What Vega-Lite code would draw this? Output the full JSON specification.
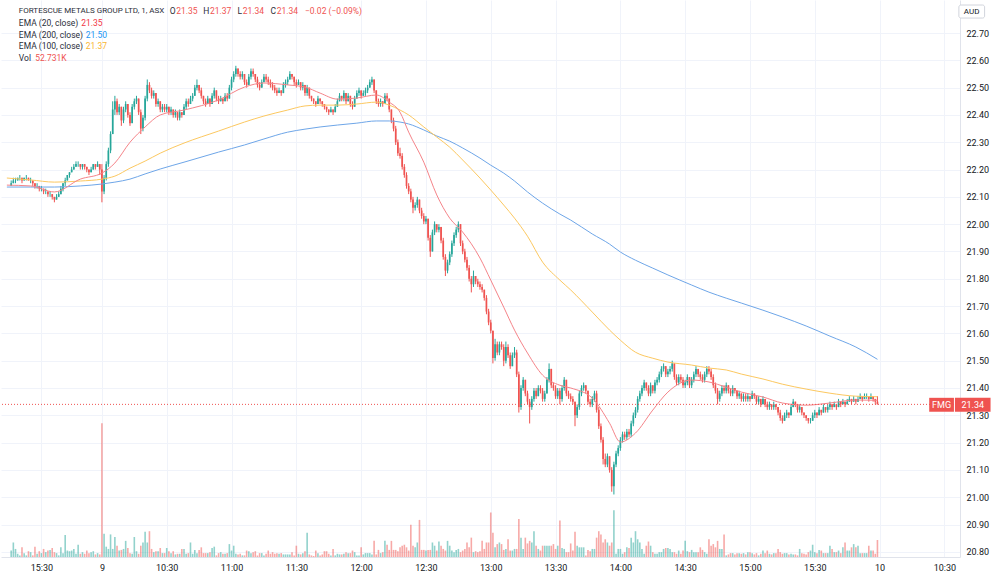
{
"$schema":"https://vega.github.io/schema/vega-lite/v6.json",
"width":959,"height":557,"padding":0,"autosize":{"type":"pad"},
"background":"#ffffff",
"config":{"view":{"stroke":null},"font":"Roboto"},
"datasets":{
"bars":[
{"i":-42,"o":22.14,"h":22.16,"l":22.14,"c":22.15,"v":20},
{"i":-41,"o":22.15,"h":22.17,"l":22.15,"c":22.16,"v":45},
{"i":-40,"o":22.16,"h":22.17,"l":22.15,"c":22.16,"v":25},
{"i":-39,"o":22.16,"h":22.17,"l":22.16,"c":22.17,"v":10},
{"i":-38,"o":22.17,"h":22.18,"l":22.16,"c":22.17,"v":5},
{"i":-37,"o":22.17,"h":22.17,"l":22.15,"c":22.16,"v":30},
{"i":-36,"o":22.16,"h":22.17,"l":22.16,"c":22.17,"v":12},
{"i":-35,"o":22.17,"h":22.18,"l":22.16,"c":22.17,"v":5},
{"i":-34,"o":22.17,"h":22.17,"l":22.16,"c":22.16,"v":18},
{"i":-33,"o":22.16,"h":22.17,"l":22.15,"c":22.16,"v":15},
{"i":-32,"o":22.16,"h":22.16,"l":22.14,"c":22.15,"v":5},
{"i":-31,"o":22.15,"h":22.15,"l":22.13,"c":22.14,"v":32},
{"i":-30,"o":22.14,"h":22.15,"l":22.13,"c":22.14,"v":10},
{"i":-29,"o":22.14,"h":22.14,"l":22.12,"c":22.13,"v":18},
{"i":-28,"o":22.13,"h":22.14,"l":22.12,"c":22.13,"v":12},
{"i":-27,"o":22.13,"h":22.13,"l":22.11,"c":22.12,"v":25},
{"i":-26,"o":22.12,"h":22.13,"l":22.11,"c":22.12,"v":15},
{"i":-25,"o":22.12,"h":22.12,"l":22.10,"c":22.11,"v":20},
{"i":-24,"o":22.11,"h":22.12,"l":22.10,"c":22.11,"v":22},
{"i":-23,"o":22.11,"h":22.11,"l":22.09,"c":22.10,"v":28},
{"i":-22,"o":22.10,"h":22.10,"l":22.08,"c":22.09,"v":15},
{"i":-21,"o":22.09,"h":22.11,"l":22.09,"c":22.10,"v":12},
{"i":-20,"o":22.10,"h":22.12,"l":22.10,"c":22.11,"v":5},
{"i":-19,"o":22.11,"h":22.14,"l":22.11,"c":22.13,"v":30},
{"i":-18,"o":22.13,"h":22.15,"l":22.12,"c":22.15,"v":12},
{"i":-17,"o":22.15,"h":22.17,"l":22.14,"c":22.16,"v":68},
{"i":-16,"o":22.16,"h":22.18,"l":22.16,"c":22.18,"v":20},
{"i":-15,"o":22.18,"h":22.19,"l":22.17,"c":22.19,"v":18},
{"i":-14,"o":22.19,"h":22.21,"l":22.19,"c":22.20,"v":20},
{"i":-13,"o":22.20,"h":22.22,"l":22.20,"c":22.21,"v":25},
{"i":-12,"o":22.21,"h":22.23,"l":22.21,"c":22.22,"v":10},
{"i":-11,"o":22.22,"h":22.23,"l":22.21,"c":22.22,"v":38},
{"i":-10,"o":22.22,"h":22.22,"l":22.20,"c":22.21,"v":10},
{"i":-9,"o":22.21,"h":22.22,"l":22.20,"c":22.22,"v":15},
{"i":-8,"o":22.22,"h":22.22,"l":22.20,"c":22.21,"v":10},
{"i":-7,"o":22.21,"h":22.21,"l":22.19,"c":22.20,"v":20},
{"i":-6,"o":22.20,"h":22.20,"l":22.18,"c":22.19,"v":12},
{"i":-5,"o":22.19,"h":22.21,"l":22.19,"c":22.20,"v":15},
{"i":-4,"o":22.20,"h":22.22,"l":22.20,"c":22.22,"v":18},
{"i":-3,"o":22.22,"h":22.22,"l":22.20,"c":22.21,"v":8},
{"i":-2,"o":22.21,"h":22.23,"l":22.21,"c":22.22,"v":12},
{"i":-1,"o":22.22,"h":22.22,"l":22.18,"c":22.20,"v":8},
{"i":0,"o":22.20,"h":22.22,"l":22.08,"c":22.12,"v":415},
{"i":1,"o":22.12,"h":22.18,"l":22.11,"c":22.17,"v":72},
{"i":2,"o":22.17,"h":22.23,"l":22.16,"c":22.22,"v":32},
{"i":3,"o":22.22,"h":22.28,"l":22.21,"c":22.27,"v":25},
{"i":4,"o":22.27,"h":22.34,"l":22.26,"c":22.33,"v":70},
{"i":5,"o":22.33,"h":22.45,"l":22.33,"c":22.42,"v":25},
{"i":6,"o":22.42,"h":22.47,"l":22.40,"c":22.45,"v":62},
{"i":7,"o":22.45,"h":22.46,"l":22.40,"c":22.41,"v":35},
{"i":8,"o":22.41,"h":22.44,"l":22.40,"c":22.43,"v":20},
{"i":9,"o":22.43,"h":22.43,"l":22.36,"c":22.38,"v":22},
{"i":10,"o":22.38,"h":22.43,"l":22.37,"c":22.42,"v":25},
{"i":11,"o":22.42,"h":22.45,"l":22.41,"c":22.44,"v":50},
{"i":12,"o":22.44,"h":22.44,"l":22.39,"c":22.40,"v":28},
{"i":13,"o":22.40,"h":22.41,"l":22.36,"c":22.37,"v":12},
{"i":14,"o":22.37,"h":22.44,"l":22.37,"c":22.43,"v":10},
{"i":15,"o":22.43,"h":22.46,"l":22.42,"c":22.45,"v":62},
{"i":16,"o":22.45,"h":22.47,"l":22.44,"c":22.46,"v":18},
{"i":17,"o":22.46,"h":22.46,"l":22.40,"c":22.41,"v":10},
{"i":18,"o":22.41,"h":22.42,"l":22.33,"c":22.35,"v":35},
{"i":19,"o":22.35,"h":22.40,"l":22.34,"c":22.39,"v":45},
{"i":20,"o":22.39,"h":22.47,"l":22.38,"c":22.46,"v":78},
{"i":21,"o":22.46,"h":22.53,"l":22.45,"c":22.51,"v":45},
{"i":22,"o":22.51,"h":22.52,"l":22.48,"c":22.49,"v":80},
{"i":23,"o":22.49,"h":22.50,"l":22.46,"c":22.47,"v":25},
{"i":24,"o":22.47,"h":22.49,"l":22.46,"c":22.48,"v":15},
{"i":25,"o":22.48,"h":22.48,"l":22.43,"c":22.44,"v":18},
{"i":26,"o":22.44,"h":22.46,"l":22.43,"c":22.45,"v":18},
{"i":27,"o":22.45,"h":22.45,"l":22.41,"c":22.42,"v":28},
{"i":28,"o":22.42,"h":22.44,"l":22.41,"c":22.43,"v":12},
{"i":29,"o":22.43,"h":22.44,"l":22.41,"c":22.42,"v":12},
{"i":30,"o":22.42,"h":22.44,"l":22.41,"c":22.43,"v":28},
{"i":31,"o":22.43,"h":22.43,"l":22.40,"c":22.41,"v":18},
{"i":32,"o":22.41,"h":22.43,"l":22.40,"c":22.42,"v":12},
{"i":33,"o":22.42,"h":22.42,"l":22.39,"c":22.40,"v":18},
{"i":34,"o":22.40,"h":22.42,"l":22.39,"c":22.41,"v":8},
{"i":35,"o":22.41,"h":22.41,"l":22.38,"c":22.39,"v":10},
{"i":36,"o":22.39,"h":22.42,"l":22.38,"c":22.41,"v":10},
{"i":37,"o":22.41,"h":22.41,"l":22.39,"c":22.40,"v":25},
{"i":38,"o":22.40,"h":22.44,"l":22.40,"c":22.43,"v":25},
{"i":39,"o":22.43,"h":22.46,"l":22.42,"c":22.45,"v":10},
{"i":40,"o":22.45,"h":22.46,"l":22.43,"c":22.44,"v":12},
{"i":41,"o":22.44,"h":22.47,"l":22.44,"c":22.46,"v":45},
{"i":42,"o":22.46,"h":22.48,"l":22.45,"c":22.47,"v":10},
{"i":43,"o":22.47,"h":22.51,"l":22.47,"c":22.50,"v":22},
{"i":44,"o":22.50,"h":22.53,"l":22.49,"c":22.51,"v":12},
{"i":45,"o":22.51,"h":22.51,"l":22.48,"c":22.49,"v":22},
{"i":46,"o":22.49,"h":22.50,"l":22.46,"c":22.47,"v":30},
{"i":47,"o":22.47,"h":22.47,"l":22.44,"c":22.45,"v":12},
{"i":48,"o":22.45,"h":22.46,"l":22.43,"c":22.44,"v":12},
{"i":49,"o":22.44,"h":22.47,"l":22.44,"c":22.46,"v":12},
{"i":50,"o":22.46,"h":22.46,"l":22.43,"c":22.44,"v":15},
{"i":51,"o":22.44,"h":22.48,"l":22.44,"c":22.47,"v":28},
{"i":52,"o":22.47,"h":22.50,"l":22.46,"c":22.49,"v":32},
{"i":53,"o":22.49,"h":22.49,"l":22.45,"c":22.46,"v":5},
{"i":54,"o":22.46,"h":22.47,"l":22.44,"c":22.45,"v":12},
{"i":55,"o":22.45,"h":22.47,"l":22.45,"c":22.46,"v":15},
{"i":56,"o":22.46,"h":22.46,"l":22.44,"c":22.45,"v":10},
{"i":57,"o":22.45,"h":22.48,"l":22.45,"c":22.47,"v":10},
{"i":58,"o":22.47,"h":22.48,"l":22.45,"c":22.46,"v":12},
{"i":59,"o":22.46,"h":22.51,"l":22.46,"c":22.50,"v":40},
{"i":60,"o":22.50,"h":22.54,"l":22.49,"c":22.53,"v":20},
{"i":61,"o":22.53,"h":22.56,"l":22.52,"c":22.55,"v":35},
{"i":62,"o":22.55,"h":22.58,"l":22.54,"c":22.57,"v":10},
{"i":63,"o":22.57,"h":22.57,"l":22.54,"c":22.55,"v":8},
{"i":64,"o":22.55,"h":22.56,"l":22.53,"c":22.54,"v":10},
{"i":65,"o":22.54,"h":22.56,"l":22.53,"c":22.55,"v":5},
{"i":66,"o":22.55,"h":22.55,"l":22.51,"c":22.52,"v":5},
{"i":67,"o":22.52,"h":22.53,"l":22.50,"c":22.51,"v":20},
{"i":68,"o":22.51,"h":22.55,"l":22.51,"c":22.54,"v":18},
{"i":69,"o":22.54,"h":22.57,"l":22.53,"c":22.56,"v":12},
{"i":70,"o":22.56,"h":22.57,"l":22.54,"c":22.55,"v":15},
{"i":71,"o":22.55,"h":22.55,"l":22.52,"c":22.53,"v":18},
{"i":72,"o":22.53,"h":22.54,"l":22.50,"c":22.51,"v":5},
{"i":73,"o":22.51,"h":22.52,"l":22.49,"c":22.50,"v":12},
{"i":74,"o":22.50,"h":22.53,"l":22.50,"c":22.52,"v":12},
{"i":75,"o":22.52,"h":22.55,"l":22.52,"c":22.54,"v":5},
{"i":76,"o":22.54,"h":22.55,"l":22.52,"c":22.53,"v":10},
{"i":77,"o":22.53,"h":22.54,"l":22.51,"c":22.52,"v":20},
{"i":78,"o":22.52,"h":22.53,"l":22.50,"c":22.51,"v":10},
{"i":79,"o":22.51,"h":22.52,"l":22.49,"c":22.50,"v":15},
{"i":80,"o":22.50,"h":22.51,"l":22.48,"c":22.49,"v":10},
{"i":81,"o":22.49,"h":22.50,"l":22.47,"c":22.48,"v":12},
{"i":82,"o":22.48,"h":22.50,"l":22.48,"c":22.49,"v":10},
{"i":83,"o":22.49,"h":22.49,"l":22.47,"c":22.48,"v":12},
{"i":84,"o":22.48,"h":22.52,"l":22.48,"c":22.51,"v":8},
{"i":85,"o":22.51,"h":22.53,"l":22.50,"c":22.52,"v":8},
{"i":86,"o":22.52,"h":22.54,"l":22.51,"c":22.53,"v":8},
{"i":87,"o":22.53,"h":22.56,"l":22.53,"c":22.55,"v":8},
{"i":88,"o":22.55,"h":22.55,"l":22.53,"c":22.54,"v":15},
{"i":89,"o":22.54,"h":22.54,"l":22.51,"c":22.52,"v":5},
{"i":90,"o":22.52,"h":22.53,"l":22.50,"c":22.51,"v":35},
{"i":91,"o":22.51,"h":22.53,"l":22.51,"c":22.52,"v":10},
{"i":92,"o":22.52,"h":22.52,"l":22.49,"c":22.50,"v":8},
{"i":93,"o":22.50,"h":22.52,"l":22.49,"c":22.51,"v":12},
{"i":94,"o":22.51,"h":22.51,"l":22.47,"c":22.48,"v":18},
{"i":95,"o":22.48,"h":22.51,"l":22.47,"c":22.50,"v":75},
{"i":96,"o":22.50,"h":22.50,"l":22.46,"c":22.47,"v":8},
{"i":97,"o":22.47,"h":22.47,"l":22.45,"c":22.46,"v":5},
{"i":98,"o":22.46,"h":22.46,"l":22.44,"c":22.45,"v":3},
{"i":99,"o":22.45,"h":22.45,"l":22.43,"c":22.44,"v":20},
{"i":100,"o":22.44,"h":22.47,"l":22.44,"c":22.46,"v":12},
{"i":101,"o":22.46,"h":22.46,"l":22.44,"c":22.45,"v":5},
{"i":102,"o":22.45,"h":22.45,"l":22.43,"c":22.44,"v":8},
{"i":103,"o":22.44,"h":22.44,"l":22.42,"c":22.43,"v":18},
{"i":104,"o":22.43,"h":22.43,"l":22.41,"c":22.42,"v":18},
{"i":105,"o":22.42,"h":22.42,"l":22.40,"c":22.41,"v":10},
{"i":106,"o":22.41,"h":22.43,"l":22.41,"c":22.42,"v":5},
{"i":107,"o":22.42,"h":22.42,"l":22.40,"c":22.41,"v":25},
{"i":108,"o":22.41,"h":22.44,"l":22.41,"c":22.43,"v":5},
{"i":109,"o":22.43,"h":22.46,"l":22.43,"c":22.45,"v":10},
{"i":110,"o":22.45,"h":22.48,"l":22.45,"c":22.47,"v":8},
{"i":111,"o":22.47,"h":22.47,"l":22.45,"c":22.46,"v":8},
{"i":112,"o":22.46,"h":22.49,"l":22.45,"c":22.48,"v":10},
{"i":113,"o":22.48,"h":22.48,"l":22.44,"c":22.45,"v":15},
{"i":114,"o":22.45,"h":22.48,"l":22.45,"c":22.47,"v":12},
{"i":115,"o":22.47,"h":22.47,"l":22.43,"c":22.44,"v":12},
{"i":116,"o":22.44,"h":22.45,"l":22.42,"c":22.43,"v":20},
{"i":117,"o":22.43,"h":22.47,"l":22.43,"c":22.46,"v":15},
{"i":118,"o":22.46,"h":22.49,"l":22.46,"c":22.48,"v":5},
{"i":119,"o":22.48,"h":22.50,"l":22.47,"c":22.49,"v":5},
{"i":120,"o":22.49,"h":22.49,"l":22.46,"c":22.47,"v":30},
{"i":121,"o":22.47,"h":22.49,"l":22.47,"c":22.48,"v":8},
{"i":122,"o":22.48,"h":22.50,"l":22.47,"c":22.49,"v":12},
{"i":123,"o":22.49,"h":22.51,"l":22.48,"c":22.50,"v":12},
{"i":124,"o":22.50,"h":22.53,"l":22.50,"c":22.52,"v":12},
{"i":125,"o":22.52,"h":22.54,"l":22.51,"c":22.53,"v":8},
{"i":126,"o":22.53,"h":22.53,"l":22.48,"c":22.49,"v":50},
{"i":127,"o":22.49,"h":22.49,"l":22.44,"c":22.45,"v":8},
{"i":128,"o":22.45,"h":22.46,"l":22.43,"c":22.44,"v":22},
{"i":129,"o":22.44,"h":22.46,"l":22.43,"c":22.45,"v":12},
{"i":130,"o":22.45,"h":22.45,"l":22.43,"c":22.44,"v":15},
{"i":131,"o":22.44,"h":22.48,"l":22.44,"c":22.47,"v":50},
{"i":132,"o":22.47,"h":22.48,"l":22.45,"c":22.46,"v":38},
{"i":133,"o":22.46,"h":22.46,"l":22.41,"c":22.42,"v":22},
{"i":134,"o":22.42,"h":22.42,"l":22.37,"c":22.38,"v":50},
{"i":135,"o":22.38,"h":22.39,"l":22.34,"c":22.35,"v":22},
{"i":136,"o":22.35,"h":22.36,"l":22.29,"c":22.30,"v":22},
{"i":137,"o":22.30,"h":22.31,"l":22.25,"c":22.26,"v":18},
{"i":138,"o":22.26,"h":22.28,"l":22.24,"c":22.25,"v":30},
{"i":139,"o":22.25,"h":22.26,"l":22.20,"c":22.21,"v":35},
{"i":140,"o":22.21,"h":22.22,"l":22.17,"c":22.18,"v":38},
{"i":141,"o":22.18,"h":22.19,"l":22.13,"c":22.14,"v":30},
{"i":142,"o":22.14,"h":22.15,"l":22.11,"c":22.12,"v":20},
{"i":143,"o":22.12,"h":22.13,"l":22.08,"c":22.09,"v":100},
{"i":144,"o":22.09,"h":22.10,"l":22.04,"c":22.06,"v":35},
{"i":145,"o":22.06,"h":22.08,"l":22.05,"c":22.07,"v":30},
{"i":146,"o":22.07,"h":22.10,"l":22.06,"c":22.09,"v":45},
{"i":147,"o":22.09,"h":22.09,"l":22.04,"c":22.05,"v":115},
{"i":148,"o":22.05,"h":22.06,"l":22.02,"c":22.03,"v":22},
{"i":149,"o":22.03,"h":22.04,"l":22.00,"c":22.01,"v":22},
{"i":150,"o":22.01,"h":22.03,"l":22.00,"c":22.02,"v":20},
{"i":151,"o":22.02,"h":22.02,"l":21.94,"c":21.95,"v":22},
{"i":152,"o":21.95,"h":21.96,"l":21.88,"c":21.90,"v":22},
{"i":153,"o":21.90,"h":21.98,"l":21.90,"c":21.97,"v":45},
{"i":154,"o":21.97,"h":22.01,"l":21.96,"c":22.00,"v":35},
{"i":155,"o":22.00,"h":22.00,"l":21.97,"c":21.98,"v":20},
{"i":156,"o":21.98,"h":22.00,"l":21.97,"c":21.99,"v":48},
{"i":157,"o":21.99,"h":21.99,"l":21.93,"c":21.94,"v":35},
{"i":158,"o":21.94,"h":21.95,"l":21.87,"c":21.88,"v":25},
{"i":159,"o":21.88,"h":21.89,"l":21.81,"c":21.83,"v":20},
{"i":160,"o":21.83,"h":21.87,"l":21.82,"c":21.86,"v":50},
{"i":161,"o":21.86,"h":21.90,"l":21.85,"c":21.89,"v":35},
{"i":162,"o":21.89,"h":21.94,"l":21.88,"c":21.93,"v":20},
{"i":163,"o":21.93,"h":21.97,"l":21.92,"c":21.96,"v":15},
{"i":164,"o":21.96,"h":21.99,"l":21.95,"c":21.98,"v":22},
{"i":165,"o":21.98,"h":22.01,"l":21.97,"c":22.00,"v":25},
{"i":166,"o":22.00,"h":22.00,"l":21.92,"c":21.93,"v":15},
{"i":167,"o":21.93,"h":21.94,"l":21.89,"c":21.90,"v":20},
{"i":168,"o":21.90,"h":21.91,"l":21.86,"c":21.87,"v":25},
{"i":169,"o":21.87,"h":21.88,"l":21.83,"c":21.84,"v":45},
{"i":170,"o":21.84,"h":21.85,"l":21.79,"c":21.80,"v":30},
{"i":171,"o":21.80,"h":21.81,"l":21.75,"c":21.78,"v":60},
{"i":172,"o":21.78,"h":21.83,"l":21.77,"c":21.81,"v":15},
{"i":173,"o":21.81,"h":21.81,"l":21.78,"c":21.79,"v":18},
{"i":174,"o":21.79,"h":21.80,"l":21.77,"c":21.78,"v":15},
{"i":175,"o":21.78,"h":21.79,"l":21.76,"c":21.77,"v":18},
{"i":176,"o":21.77,"h":21.78,"l":21.75,"c":21.76,"v":50},
{"i":177,"o":21.76,"h":21.76,"l":21.72,"c":21.73,"v":25},
{"i":178,"o":21.73,"h":21.74,"l":21.67,"c":21.68,"v":45},
{"i":179,"o":21.68,"h":21.69,"l":21.63,"c":21.64,"v":45},
{"i":180,"o":21.64,"h":21.65,"l":21.60,"c":21.61,"v":138},
{"i":181,"o":21.61,"h":21.61,"l":21.49,"c":21.51,"v":75},
{"i":182,"o":21.51,"h":21.58,"l":21.50,"c":21.56,"v":30},
{"i":183,"o":21.56,"h":21.57,"l":21.52,"c":21.53,"v":40},
{"i":184,"o":21.53,"h":21.57,"l":21.52,"c":21.56,"v":45},
{"i":185,"o":21.56,"h":21.57,"l":21.54,"c":21.55,"v":40},
{"i":186,"o":21.55,"h":21.56,"l":21.48,"c":21.50,"v":22},
{"i":187,"o":21.50,"h":21.57,"l":21.49,"c":21.55,"v":25},
{"i":188,"o":21.55,"h":21.56,"l":21.51,"c":21.52,"v":55},
{"i":189,"o":21.52,"h":21.53,"l":21.47,"c":21.48,"v":20},
{"i":190,"o":21.48,"h":21.53,"l":21.48,"c":21.52,"v":20},
{"i":191,"o":21.52,"h":21.55,"l":21.51,"c":21.53,"v":25},
{"i":192,"o":21.53,"h":21.54,"l":21.44,"c":21.45,"v":25},
{"i":193,"o":21.45,"h":21.46,"l":21.31,"c":21.33,"v":118},
{"i":194,"o":21.33,"h":21.41,"l":21.32,"c":21.40,"v":60},
{"i":195,"o":21.40,"h":21.44,"l":21.39,"c":21.43,"v":25},
{"i":196,"o":21.43,"h":21.43,"l":21.37,"c":21.38,"v":60},
{"i":197,"o":21.38,"h":21.39,"l":21.34,"c":21.35,"v":42},
{"i":198,"o":21.35,"h":21.36,"l":21.27,"c":21.33,"v":50},
{"i":199,"o":21.33,"h":21.37,"l":21.32,"c":21.36,"v":45},
{"i":200,"o":21.36,"h":21.40,"l":21.35,"c":21.39,"v":80},
{"i":201,"o":21.39,"h":21.40,"l":21.36,"c":21.37,"v":35},
{"i":202,"o":21.37,"h":21.41,"l":21.37,"c":21.40,"v":25},
{"i":203,"o":21.40,"h":21.41,"l":21.38,"c":21.39,"v":20},
{"i":204,"o":21.39,"h":21.40,"l":21.35,"c":21.36,"v":35},
{"i":205,"o":21.36,"h":21.39,"l":21.35,"c":21.38,"v":35},
{"i":206,"o":21.38,"h":21.44,"l":21.38,"c":21.43,"v":35},
{"i":207,"o":21.43,"h":21.49,"l":21.42,"c":21.47,"v":35},
{"i":208,"o":21.47,"h":21.47,"l":21.40,"c":21.41,"v":35},
{"i":209,"o":21.41,"h":21.42,"l":21.39,"c":21.40,"v":40},
{"i":210,"o":21.40,"h":21.41,"l":21.36,"c":21.37,"v":25},
{"i":211,"o":21.37,"h":21.40,"l":21.36,"c":21.39,"v":35},
{"i":212,"o":21.39,"h":21.40,"l":21.34,"c":21.36,"v":113},
{"i":213,"o":21.36,"h":21.41,"l":21.35,"c":21.40,"v":28},
{"i":214,"o":21.40,"h":21.44,"l":21.39,"c":21.43,"v":25},
{"i":215,"o":21.43,"h":21.43,"l":21.37,"c":21.38,"v":15},
{"i":216,"o":21.38,"h":21.39,"l":21.36,"c":21.37,"v":15},
{"i":217,"o":21.37,"h":21.38,"l":21.35,"c":21.36,"v":42},
{"i":218,"o":21.36,"h":21.37,"l":21.34,"c":21.35,"v":20},
{"i":219,"o":21.35,"h":21.35,"l":21.26,"c":21.30,"v":78},
{"i":220,"o":21.30,"h":21.34,"l":21.29,"c":21.33,"v":35},
{"i":221,"o":21.33,"h":21.39,"l":21.32,"c":21.38,"v":30},
{"i":222,"o":21.38,"h":21.41,"l":21.37,"c":21.40,"v":30},
{"i":223,"o":21.40,"h":21.42,"l":21.39,"c":21.41,"v":30},
{"i":224,"o":21.41,"h":21.41,"l":21.38,"c":21.39,"v":5},
{"i":225,"o":21.39,"h":21.39,"l":21.34,"c":21.35,"v":22},
{"i":226,"o":21.35,"h":21.36,"l":21.33,"c":21.34,"v":18},
{"i":227,"o":21.34,"h":21.37,"l":21.33,"c":21.36,"v":25},
{"i":228,"o":21.36,"h":21.39,"l":21.35,"c":21.38,"v":25},
{"i":229,"o":21.38,"h":21.39,"l":21.31,"c":21.32,"v":60},
{"i":230,"o":21.32,"h":21.33,"l":21.25,"c":21.26,"v":80},
{"i":231,"o":21.26,"h":21.27,"l":21.20,"c":21.21,"v":70},
{"i":232,"o":21.21,"h":21.22,"l":21.12,"c":21.14,"v":45},
{"i":233,"o":21.14,"h":21.16,"l":21.11,"c":21.12,"v":55},
{"i":234,"o":21.12,"h":21.16,"l":21.11,"c":21.15,"v":45},
{"i":235,"o":21.15,"h":21.15,"l":21.09,"c":21.10,"v":35},
{"i":236,"o":21.10,"h":21.11,"l":21.02,"c":21.04,"v":45},
{"i":237,"o":21.04,"h":21.13,"l":21.01,"c":21.12,"v":145},
{"i":238,"o":21.12,"h":21.17,"l":21.11,"c":21.16,"v":10},
{"i":239,"o":21.16,"h":21.19,"l":21.15,"c":21.18,"v":25},
{"i":240,"o":21.18,"h":21.22,"l":21.17,"c":21.21,"v":25},
{"i":241,"o":21.21,"h":21.24,"l":21.20,"c":21.23,"v":10},
{"i":242,"o":21.23,"h":21.24,"l":21.21,"c":21.22,"v":15},
{"i":243,"o":21.22,"h":21.25,"l":21.21,"c":21.24,"v":30},
{"i":244,"o":21.24,"h":21.25,"l":21.22,"c":21.23,"v":28},
{"i":245,"o":21.23,"h":21.28,"l":21.22,"c":21.27,"v":60},
{"i":246,"o":21.27,"h":21.31,"l":21.26,"c":21.30,"v":45},
{"i":247,"o":21.30,"h":21.33,"l":21.29,"c":21.32,"v":80},
{"i":248,"o":21.32,"h":21.37,"l":21.31,"c":21.36,"v":55},
{"i":249,"o":21.36,"h":21.39,"l":21.35,"c":21.38,"v":45},
{"i":250,"o":21.38,"h":21.41,"l":21.37,"c":21.40,"v":25},
{"i":251,"o":21.40,"h":21.43,"l":21.39,"c":21.42,"v":10},
{"i":252,"o":21.42,"h":21.42,"l":21.39,"c":21.40,"v":35},
{"i":253,"o":21.40,"h":21.41,"l":21.37,"c":21.38,"v":48},
{"i":254,"o":21.38,"h":21.42,"l":21.37,"c":21.41,"v":35},
{"i":255,"o":21.41,"h":21.41,"l":21.38,"c":21.39,"v":15},
{"i":256,"o":21.39,"h":21.43,"l":21.38,"c":21.42,"v":10},
{"i":257,"o":21.42,"h":21.44,"l":21.41,"c":21.43,"v":10},
{"i":258,"o":21.43,"h":21.46,"l":21.42,"c":21.45,"v":15},
{"i":259,"o":21.45,"h":21.48,"l":21.44,"c":21.47,"v":15},
{"i":260,"o":21.47,"h":21.49,"l":21.46,"c":21.48,"v":25},
{"i":261,"o":21.48,"h":21.48,"l":21.44,"c":21.45,"v":28},
{"i":262,"o":21.45,"h":21.47,"l":21.44,"c":21.46,"v":28},
{"i":263,"o":21.46,"h":21.48,"l":21.45,"c":21.47,"v":25},
{"i":264,"o":21.47,"h":21.50,"l":21.46,"c":21.49,"v":15},
{"i":265,"o":21.49,"h":21.49,"l":21.43,"c":21.44,"v":15},
{"i":266,"o":21.44,"h":21.45,"l":21.41,"c":21.42,"v":10},
{"i":267,"o":21.42,"h":21.45,"l":21.41,"c":21.44,"v":20},
{"i":268,"o":21.44,"h":21.45,"l":21.42,"c":21.43,"v":10},
{"i":269,"o":21.43,"h":21.44,"l":21.40,"c":21.41,"v":20},
{"i":270,"o":21.41,"h":21.43,"l":21.40,"c":21.42,"v":50},
{"i":271,"o":21.42,"h":21.45,"l":21.41,"c":21.44,"v":18},
{"i":272,"o":21.44,"h":21.44,"l":21.40,"c":21.41,"v":15},
{"i":273,"o":21.41,"h":21.44,"l":21.40,"c":21.43,"v":22},
{"i":274,"o":21.43,"h":21.46,"l":21.42,"c":21.45,"v":15},
{"i":275,"o":21.45,"h":21.48,"l":21.44,"c":21.47,"v":15},
{"i":276,"o":21.47,"h":21.47,"l":21.44,"c":21.45,"v":15},
{"i":277,"o":21.45,"h":21.46,"l":21.43,"c":21.44,"v":30},
{"i":278,"o":21.44,"h":21.45,"l":21.42,"c":21.43,"v":22},
{"i":279,"o":21.43,"h":21.46,"l":21.42,"c":21.45,"v":15},
{"i":280,"o":21.45,"h":21.48,"l":21.44,"c":21.47,"v":10},
{"i":281,"o":21.47,"h":21.48,"l":21.45,"c":21.46,"v":55},
{"i":282,"o":21.46,"h":21.47,"l":21.43,"c":21.44,"v":35},
{"i":283,"o":21.44,"h":21.45,"l":21.40,"c":21.41,"v":40},
{"i":284,"o":21.41,"h":21.42,"l":21.38,"c":21.39,"v":30},
{"i":285,"o":21.39,"h":21.40,"l":21.34,"c":21.36,"v":50},
{"i":286,"o":21.36,"h":21.39,"l":21.35,"c":21.38,"v":25},
{"i":287,"o":21.38,"h":21.41,"l":21.37,"c":21.40,"v":25},
{"i":288,"o":21.40,"h":21.41,"l":21.38,"c":21.39,"v":70},
{"i":289,"o":21.39,"h":21.42,"l":21.38,"c":21.41,"v":5},
{"i":290,"o":21.41,"h":21.41,"l":21.38,"c":21.39,"v":8},
{"i":291,"o":21.39,"h":21.40,"l":21.37,"c":21.38,"v":12},
{"i":292,"o":21.38,"h":21.41,"l":21.37,"c":21.40,"v":12},
{"i":293,"o":21.40,"h":21.40,"l":21.38,"c":21.39,"v":8},
{"i":294,"o":21.39,"h":21.39,"l":21.36,"c":21.37,"v":12},
{"i":295,"o":21.37,"h":21.39,"l":21.36,"c":21.38,"v":12},
{"i":296,"o":21.38,"h":21.38,"l":21.35,"c":21.36,"v":10},
{"i":297,"o":21.36,"h":21.38,"l":21.35,"c":21.37,"v":12},
{"i":298,"o":21.37,"h":21.38,"l":21.35,"c":21.36,"v":8},
{"i":299,"o":21.36,"h":21.38,"l":21.35,"c":21.37,"v":15},
{"i":300,"o":21.37,"h":21.37,"l":21.35,"c":21.36,"v":15},
{"i":301,"o":21.36,"h":21.39,"l":21.36,"c":21.38,"v":12},
{"i":302,"o":21.38,"h":21.38,"l":21.36,"c":21.37,"v":8},
{"i":303,"o":21.37,"h":21.37,"l":21.34,"c":21.35,"v":12},
{"i":304,"o":21.35,"h":21.37,"l":21.34,"c":21.36,"v":5},
{"i":305,"o":21.36,"h":21.36,"l":21.33,"c":21.34,"v":10},
{"i":306,"o":21.34,"h":21.37,"l":21.34,"c":21.36,"v":20},
{"i":307,"o":21.36,"h":21.36,"l":21.33,"c":21.34,"v":12},
{"i":308,"o":21.34,"h":21.35,"l":21.32,"c":21.33,"v":20},
{"i":309,"o":21.33,"h":21.35,"l":21.32,"c":21.34,"v":10},
{"i":310,"o":21.34,"h":21.34,"l":21.32,"c":21.33,"v":8},
{"i":311,"o":21.33,"h":21.35,"l":21.32,"c":21.34,"v":12},
{"i":312,"o":21.34,"h":21.34,"l":21.32,"c":21.33,"v":12},
{"i":313,"o":21.33,"h":21.33,"l":21.30,"c":21.31,"v":25},
{"i":314,"o":21.31,"h":21.32,"l":21.28,"c":21.29,"v":15},
{"i":315,"o":21.29,"h":21.30,"l":21.27,"c":21.28,"v":10},
{"i":316,"o":21.28,"h":21.31,"l":21.28,"c":21.30,"v":12},
{"i":317,"o":21.30,"h":21.32,"l":21.29,"c":21.31,"v":12},
{"i":318,"o":21.31,"h":21.31,"l":21.29,"c":21.30,"v":8},
{"i":319,"o":21.30,"h":21.34,"l":21.30,"c":21.33,"v":10},
{"i":320,"o":21.33,"h":21.36,"l":21.33,"c":21.35,"v":8},
{"i":321,"o":21.35,"h":21.35,"l":21.33,"c":21.34,"v":8},
{"i":322,"o":21.34,"h":21.34,"l":21.31,"c":21.32,"v":5},
{"i":323,"o":21.32,"h":21.34,"l":21.31,"c":21.33,"v":25},
{"i":324,"o":21.33,"h":21.33,"l":21.30,"c":21.31,"v":12},
{"i":325,"o":21.31,"h":21.31,"l":21.29,"c":21.30,"v":10},
{"i":326,"o":21.30,"h":21.30,"l":21.28,"c":21.29,"v":8},
{"i":327,"o":21.29,"h":21.29,"l":21.27,"c":21.28,"v":15},
{"i":328,"o":21.28,"h":21.29,"l":21.27,"c":21.28,"v":20},
{"i":329,"o":21.28,"h":21.31,"l":21.28,"c":21.30,"v":38},
{"i":330,"o":21.30,"h":21.32,"l":21.29,"c":21.31,"v":15},
{"i":331,"o":21.31,"h":21.31,"l":21.29,"c":21.30,"v":12},
{"i":332,"o":21.30,"h":21.33,"l":21.30,"c":21.32,"v":22},
{"i":333,"o":21.32,"h":21.32,"l":21.30,"c":21.31,"v":20},
{"i":334,"o":21.31,"h":21.34,"l":21.31,"c":21.33,"v":12},
{"i":335,"o":21.33,"h":21.33,"l":21.31,"c":21.32,"v":12},
{"i":336,"o":21.32,"h":21.34,"l":21.31,"c":21.33,"v":12},
{"i":337,"o":21.33,"h":21.35,"l":21.32,"c":21.34,"v":35},
{"i":338,"o":21.34,"h":21.34,"l":21.32,"c":21.33,"v":25},
{"i":339,"o":21.33,"h":21.35,"l":21.33,"c":21.34,"v":15},
{"i":340,"o":21.34,"h":21.34,"l":21.32,"c":21.33,"v":15},
{"i":341,"o":21.33,"h":21.36,"l":21.33,"c":21.35,"v":20},
{"i":342,"o":21.35,"h":21.35,"l":21.33,"c":21.34,"v":12},
{"i":343,"o":21.34,"h":21.36,"l":21.34,"c":21.35,"v":30},
{"i":344,"o":21.35,"h":21.35,"l":21.33,"c":21.34,"v":45},
{"i":345,"o":21.34,"h":21.36,"l":21.34,"c":21.35,"v":20},
{"i":346,"o":21.35,"h":21.37,"l":21.35,"c":21.36,"v":20},
{"i":347,"o":21.36,"h":21.36,"l":21.34,"c":21.35,"v":30},
{"i":348,"o":21.35,"h":21.37,"l":21.35,"c":21.36,"v":40},
{"i":349,"o":21.36,"h":21.36,"l":21.34,"c":21.35,"v":30},
{"i":350,"o":21.35,"h":21.37,"l":21.35,"c":21.36,"v":35},
{"i":351,"o":21.36,"h":21.38,"l":21.36,"c":21.37,"v":12},
{"i":352,"o":21.37,"h":21.37,"l":21.35,"c":21.36,"v":12},
{"i":353,"o":21.36,"h":21.38,"l":21.36,"c":21.37,"v":12},
{"i":354,"o":21.37,"h":21.38,"l":21.36,"c":21.37,"v":12},
{"i":355,"o":21.37,"h":21.37,"l":21.35,"c":21.36,"v":35},
{"i":356,"o":21.36,"h":21.38,"l":21.36,"c":21.37,"v":20},
{"i":357,"o":21.37,"h":21.37,"l":21.35,"c":21.36,"v":20},
{"i":358,"o":21.36,"h":21.36,"l":21.34,"c":21.35,"v":10},
{"i":359,"o":21.35,"h":21.37,"l":21.34,"c":21.34,"v":52.731}
],
"ema":[
{"i":-44,"e20":22.143,"e100":22.169,"e200":22.136},
{"i":-33,"e20":22.14,"e100":22.162,"e200":22.136},
{"i":-22,"e20":22.118,"e100":22.154,"e200":22.136},
{"i":-10,"e20":22.165,"e100":22.158,"e200":22.14},
{"i":0,"e20":22.187,"e100":22.165,"e200":22.147},
{"i":6,"e20":22.224,"e100":22.176,"e200":22.154},
{"i":13,"e20":22.30,"e100":22.205,"e200":22.165},
{"i":20,"e20":22.356,"e100":22.231,"e200":22.184},
{"i":27,"e20":22.40,"e100":22.26,"e200":22.202},
{"i":38,"e20":22.418,"e100":22.297,"e200":22.227},
{"i":54,"e20":22.455,"e100":22.341,"e200":22.264},
{"i":66,"e20":22.502,"e100":22.374,"e200":22.29},
{"i":75,"e20":22.517,"e100":22.396,"e200":22.312},
{"i":86,"e20":22.51,"e100":22.418,"e200":22.337},
{"i":94,"e20":22.502,"e100":22.433,"e200":22.348},
{"i":101,"e20":22.48,"e100":22.436,"e200":22.356},
{"i":109,"e20":22.458,"e100":22.436,"e200":22.363},
{"i":118,"e20":22.462,"e100":22.44,"e200":22.37},
{"i":127,"e20":22.473,"e100":22.447,"e200":22.378},
{"i":133,"e20":22.447,"e100":22.436,"e200":22.378},
{"i":138,"e20":22.41,"e100":22.418,"e200":22.374},
{"i":142,"e20":22.337,"e100":22.40,"e200":22.367},
{"i":149,"e20":22.227,"e100":22.356,"e200":22.345},
{"i":155,"e20":22.107,"e100":22.319,"e200":22.323},
{"i":161,"e20":22.022,"e100":22.282,"e200":22.304},
{"i":167,"e20":21.971,"e100":22.235,"e200":22.279},
{"i":175,"e20":21.876,"e100":22.169,"e200":22.242},
{"i":180,"e20":21.795,"e100":22.125,"e200":22.216},
{"i":186,"e20":21.696,"e100":22.07,"e200":22.187},
{"i":191,"e20":21.612,"e100":22.022,"e200":22.158},
{"i":197,"e20":21.528,"e100":21.956,"e200":22.118},
{"i":204,"e20":21.447,"e100":21.861,"e200":22.077},
{"i":212,"e20":21.41,"e100":21.795,"e200":22.037},
{"i":217,"e20":21.40,"e100":21.759,"e200":22.015},
{"i":227,"e20":21.363,"e100":21.678,"e200":21.964},
{"i":235,"e20":21.271,"e100":21.612,"e200":21.927},
{"i":240,"e20":21.202,"e100":21.575,"e200":21.898},
{"i":247,"e20":21.235,"e100":21.531,"e200":21.868},
{"i":255,"e20":21.319,"e100":21.509,"e200":21.839},
{"i":262,"e20":21.385,"e100":21.495,"e200":21.814},
{"i":273,"e20":21.429,"e100":21.484,"e200":21.777},
{"i":281,"e20":21.422,"e100":21.473,"e200":21.751},
{"i":289,"e20":21.403,"e100":21.466,"e200":21.729},
{"i":296,"e20":21.385,"e100":21.451,"e200":21.711},
{"i":306,"e20":21.367,"e100":21.433,"e200":21.685},
{"i":315,"e20":21.345,"e100":21.414,"e200":21.66},
{"i":326,"e20":21.337,"e100":21.396,"e200":21.627},
{"i":337,"e20":21.345,"e100":21.381,"e200":21.59},
{"i":349,"e20":21.356,"e100":21.37,"e200":21.55},
{"i":359,"e20":21.355,"e100":21.368,"e200":21.505}
]
},
"data":{"name":"bars"},
"layer":[
{"mark":{"type":"bar","width":1.6,"opacity":0.5},
 "encoding":{
  "x":{"field":"i","type":"quantitative","scale":{"domain":[-44.4,394.9],"nice":false,"zero":false},
   "axis":{"title":null,"orient":"bottom","values":[-28,0,30,60,90,120,150,180,210,240,270,300,330,360,390],
    "labelExpr":"datum.value == -28 ? '15:30' : datum.value == 0 ? '9' : datum.value == 360 ? '10' : datum.value == 390 ? '10:30' : (10 + floor(datum.value / 60)) + ':' + (datum.value % 60 == 0 ? '00' : '30')",
    "grid":true,"gridColor":"#f0f3fa","gridWidth":1,"ticks":false,"domainColor":"#e0e3eb","labelColor":"#131722","labelFontSize":9,"labelFont":"Roboto","labelPadding":6,"labelFlush":false,"labelOverlap":false,"minExtent":23,"maxExtent":23}},
  "y":{"field":"v","type":"quantitative","scale":{"domain":[0,1727],"nice":false,"zero":true},"axis":null},
  "color":{"condition":{"test":"datum.c >= datum.o","value":"#26a69a"},"value":"#ef5350"}}},
{"mark":{"type":"rule","strokeWidth":1},
 "encoding":{
  "x":{"field":"i","type":"quantitative","title":null},
  "y":{"field":"l","type":"quantitative","title":null,"scale":{"domain":[20.781,22.821],"nice":false,"zero":false},
   "axis":{"orient":"right","values":[20.8,20.9,21.0,21.1,21.2,21.3,21.4,21.5,21.6,21.7,21.8,21.9,22.0,22.1,22.2,22.3,22.4,22.5,22.6,22.7],"format":".2f","labelOverlap":false,
    "grid":true,"gridColor":"#f0f3fa","gridWidth":1,"ticks":false,"domainColor":"#e0e3eb","labelColor":"#131722","labelFontSize":9,"labelFont":"Roboto","labelPadding":6,"minExtent":41,"maxExtent":41}},
  "y2":{"field":"h"},
  "color":{"condition":{"test":"datum.c >= datum.o","value":"#26a69a"},"value":"#ef5350"}}},
{"mark":{"type":"bar","width":1.7},
 "encoding":{
  "x":{"field":"i","type":"quantitative","title":null},
  "y":{"field":"o","type":"quantitative","axis":null,"scale":{"domain":[20.781,22.821],"nice":false,"zero":false}},
  "y2":{"field":"c"},
  "color":{"condition":{"test":"datum.c >= datum.o","value":"#26a69a"},"value":"#ef5350"}}},
{"data":{"name":"ema"},"mark":{"type":"line","strokeWidth":1,"color":"#6ea6e8","interpolate":"monotone"},
 "encoding":{"x":{"field":"i","type":"quantitative","title":null},"y":{"field":"e200","type":"quantitative","axis":null,"scale":{"domain":[20.781,22.821],"nice":false,"zero":false}}}},
{"data":{"name":"ema"},"mark":{"type":"line","strokeWidth":1,"color":"#fcc860","interpolate":"monotone"},
 "encoding":{"x":{"field":"i","type":"quantitative","title":null},"y":{"field":"e100","type":"quantitative","axis":null,"scale":{"domain":[20.781,22.821],"nice":false,"zero":false}}}},
{"data":{"name":"ema"},"mark":{"type":"line","strokeWidth":1,"color":"#f58489","interpolate":"monotone"},
 "encoding":{"x":{"field":"i","type":"quantitative","title":null},"y":{"field":"e20","type":"quantitative","axis":null,"scale":{"domain":[20.781,22.821],"nice":false,"zero":false}}}},
{"data":{"values":[{}]},"mark":{"type":"rule","strokeWidth":1,"color":"#ef5350","strokeDash":[1,2]},
 "encoding":{"y":{"datum":21.34,"type":"quantitative","axis":null,"scale":{"domain":[20.781,22.821],"nice":false,"zero":false}}}},
{"data":{"values":[{}]},"mark":{"type":"rect","color":"#ef5350"},
 "encoding":{"x":{"datum":382.96,"type":"quantitative","title":null},"x2":{"datum":394.41},"y":{"datum":21.313,"type":"quantitative","axis":null,"scale":{"domain":[20.781,22.821],"nice":false,"zero":false}},"y2":{"datum":21.364}}},
{"data":{"values":[{}]},"mark":{"type":"rect","color":"#ef5350"},
 "encoding":{"x":{"datum":394.87,"type":"quantitative","title":null},"x2":{"datum":411.36},"y":{"datum":21.313,"type":"quantitative","axis":null,"scale":{"domain":[20.781,22.821],"nice":false,"zero":false}},"y2":{"datum":21.364}}},
{"data":{"values":[{}]},"mark":{"type":"text","color":"#ffffff","fontSize":9,"align":"center","baseline":"middle","text":"FMG"},
 "encoding":{"x":{"datum":388.68,"type":"quantitative","title":null},"y":{"datum":21.339,"type":"quantitative","axis":null,"scale":{"domain":[20.781,22.821],"nice":false,"zero":false}}}},
{"data":{"values":[{}]},"mark":{"type":"text","color":"#ffffff","fontSize":9,"align":"center","baseline":"middle","text":"21.34"},
 "encoding":{"x":{"datum":403.11,"type":"quantitative","title":null},"y":{"datum":21.339,"type":"quantitative","axis":null,"scale":{"domain":[20.781,22.821],"nice":false,"zero":false}}}},
{"data":{"values":[{}]},"mark":{"type":"rect","fill":"#ffffff","stroke":"#d1d4dc","strokeWidth":1,"cornerRadius":2},
 "encoding":{"x":{"datum":396.7,"type":"quantitative","title":null},"x2":{"datum":408.6},"y":{"datum":22.7549,"type":"quantitative","axis":null,"scale":{"domain":[20.781,22.821],"nice":false,"zero":false}},"y2":{"datum":22.8026}}},
{"data":{"values":[{}]},"mark":{"type":"text","color":"#131722","fontSize":8,"align":"center","baseline":"middle","text":"AUD"},
 "encoding":{"x":{"datum":402.6,"type":"quantitative","title":null},"y":{"datum":22.7788,"type":"quantitative","axis":null,"scale":{"domain":[20.781,22.821],"nice":false,"zero":false}}}},
{"data":{"values":[{}]},"mark":{"type":"text","color":"#2a2e39","fontSize":8,"align":"left","baseline":"middle","text":"FORTESCUE METALS GROUP LTD, 1, ASX"},
 "encoding":{"x":{"datum":-38.47,"type":"quantitative","title":null},"y":{"datum":22.7806,"type":"quantitative","axis":null,"scale":{"domain":[20.781,22.821],"nice":false,"zero":false}}}},
{"data":{"values":[{}]},"mark":{"type":"text","color":"#2a2e39","fontSize":8.5,"align":"left","baseline":"middle","text":"O"},
 "encoding":{"x":{"datum":31.4,"type":"quantitative","title":null},"y":{"datum":22.7806,"type":"quantitative","axis":null,"scale":{"domain":[20.781,22.821],"nice":false,"zero":false}}}},
{"data":{"values":[{}]},"mark":{"type":"text","color":"#ef5350","fontSize":8.5,"align":"left","baseline":"middle","text":"21.35"},
 "encoding":{"x":{"datum":34.4,"type":"quantitative","title":null},"y":{"datum":22.7806,"type":"quantitative","axis":null,"scale":{"domain":[20.781,22.821],"nice":false,"zero":false}}}},
{"data":{"values":[{}]},"mark":{"type":"text","color":"#2a2e39","fontSize":8.5,"align":"left","baseline":"middle","text":"H"},
 "encoding":{"x":{"datum":46.9,"type":"quantitative","title":null},"y":{"datum":22.7806,"type":"quantitative","axis":null,"scale":{"domain":[20.781,22.821],"nice":false,"zero":false}}}},
{"data":{"values":[{}]},"mark":{"type":"text","color":"#ef5350","fontSize":8.5,"align":"left","baseline":"middle","text":"21.37"},
 "encoding":{"x":{"datum":50.0,"type":"quantitative","title":null},"y":{"datum":22.7806,"type":"quantitative","axis":null,"scale":{"domain":[20.781,22.821],"nice":false,"zero":false}}}},
{"data":{"values":[{}]},"mark":{"type":"text","color":"#2a2e39","fontSize":8.5,"align":"left","baseline":"middle","text":"L"},
 "encoding":{"x":{"datum":62.8,"type":"quantitative","title":null},"y":{"datum":22.7806,"type":"quantitative","axis":null,"scale":{"domain":[20.781,22.821],"nice":false,"zero":false}}}},
{"data":{"values":[{}]},"mark":{"type":"text","color":"#ef5350","fontSize":8.5,"align":"left","baseline":"middle","text":"21.34"},
 "encoding":{"x":{"datum":65.2,"type":"quantitative","title":null},"y":{"datum":22.7806,"type":"quantitative","axis":null,"scale":{"domain":[20.781,22.821],"nice":false,"zero":false}}}},
{"data":{"values":[{}]},"mark":{"type":"text","color":"#2a2e39","fontSize":8.5,"align":"left","baseline":"middle","text":"C"},
 "encoding":{"x":{"datum":78.0,"type":"quantitative","title":null},"y":{"datum":22.7806,"type":"quantitative","axis":null,"scale":{"domain":[20.781,22.821],"nice":false,"zero":false}}}},
{"data":{"values":[{}]},"mark":{"type":"text","color":"#ef5350","fontSize":8.5,"align":"left","baseline":"middle","text":"21.34"},
 "encoding":{"x":{"datum":80.9,"type":"quantitative","title":null},"y":{"datum":22.7806,"type":"quantitative","axis":null,"scale":{"domain":[20.781,22.821],"nice":false,"zero":false}}}},
{"data":{"values":[{}]},"mark":{"type":"text","color":"#ef5350","fontSize":8.5,"align":"left","baseline":"middle","text":"−0.02 (−0.09%)"},
 "encoding":{"x":{"datum":94.0,"type":"quantitative","title":null},"y":{"datum":22.7806,"type":"quantitative","axis":null,"scale":{"domain":[20.781,22.821],"nice":false,"zero":false}}}},
{"data":{"values":[{}]},"mark":{"type":"text","color":"#2a2e39","fontSize":8.5,"align":"left","baseline":"middle","text":"EMA (20, close)"},
 "encoding":{"x":{"datum":-38.47,"type":"quantitative","title":null},"y":{"datum":22.7366,"type":"quantitative","axis":null,"scale":{"domain":[20.781,22.821],"nice":false,"zero":false}}}},
{"data":{"values":[{}]},"mark":{"type":"text","color":"#f23645","fontSize":8.5,"align":"left","baseline":"middle","text":"21.35"},
 "encoding":{"x":{"datum":-9.6,"type":"quantitative","title":null},"y":{"datum":22.7366,"type":"quantitative","axis":null,"scale":{"domain":[20.781,22.821],"nice":false,"zero":false}}}},
{"data":{"values":[{}]},"mark":{"type":"text","color":"#2a2e39","fontSize":8.5,"align":"left","baseline":"middle","text":"EMA (200, close)"},
 "encoding":{"x":{"datum":-38.47,"type":"quantitative","title":null},"y":{"datum":22.6945,"type":"quantitative","axis":null,"scale":{"domain":[20.781,22.821],"nice":false,"zero":false}}}},
{"data":{"values":[{}]},"mark":{"type":"text","color":"#2196f3","fontSize":8.5,"align":"left","baseline":"middle","text":"21.50"},
 "encoding":{"x":{"datum":-7.5,"type":"quantitative","title":null},"y":{"datum":22.6945,"type":"quantitative","axis":null,"scale":{"domain":[20.781,22.821],"nice":false,"zero":false}}}},
{"data":{"values":[{}]},"mark":{"type":"text","color":"#2a2e39","fontSize":8.5,"align":"left","baseline":"middle","text":"EMA (100, close)"},
 "encoding":{"x":{"datum":-38.47,"type":"quantitative","title":null},"y":{"datum":22.6524,"type":"quantitative","axis":null,"scale":{"domain":[20.781,22.821],"nice":false,"zero":false}}}},
{"data":{"values":[{}]},"mark":{"type":"text","color":"#f9b530","fontSize":8.5,"align":"left","baseline":"middle","text":"21.37"},
 "encoding":{"x":{"datum":-7.5,"type":"quantitative","title":null},"y":{"datum":22.6524,"type":"quantitative","axis":null,"scale":{"domain":[20.781,22.821],"nice":false,"zero":false}}}},
{"data":{"values":[{}]},"mark":{"type":"text","color":"#2a2e39","fontSize":8.5,"align":"left","baseline":"middle","text":"Vol"},
 "encoding":{"x":{"datum":-38.47,"type":"quantitative","title":null},"y":{"datum":22.6084,"type":"quantitative","axis":null,"scale":{"domain":[20.781,22.821],"nice":false,"zero":false}}}},
{"data":{"values":[{}]},"mark":{"type":"text","color":"#ef5350","fontSize":8.5,"align":"left","baseline":"middle","text":"52.731K"},
 "encoding":{"x":{"datum":-30.9,"type":"quantitative","title":null},"y":{"datum":22.6084,"type":"quantitative","axis":null,"scale":{"domain":[20.781,22.821],"nice":false,"zero":false}}}}
],
"resolve":{"scale":{"y":"independent"}}
}
